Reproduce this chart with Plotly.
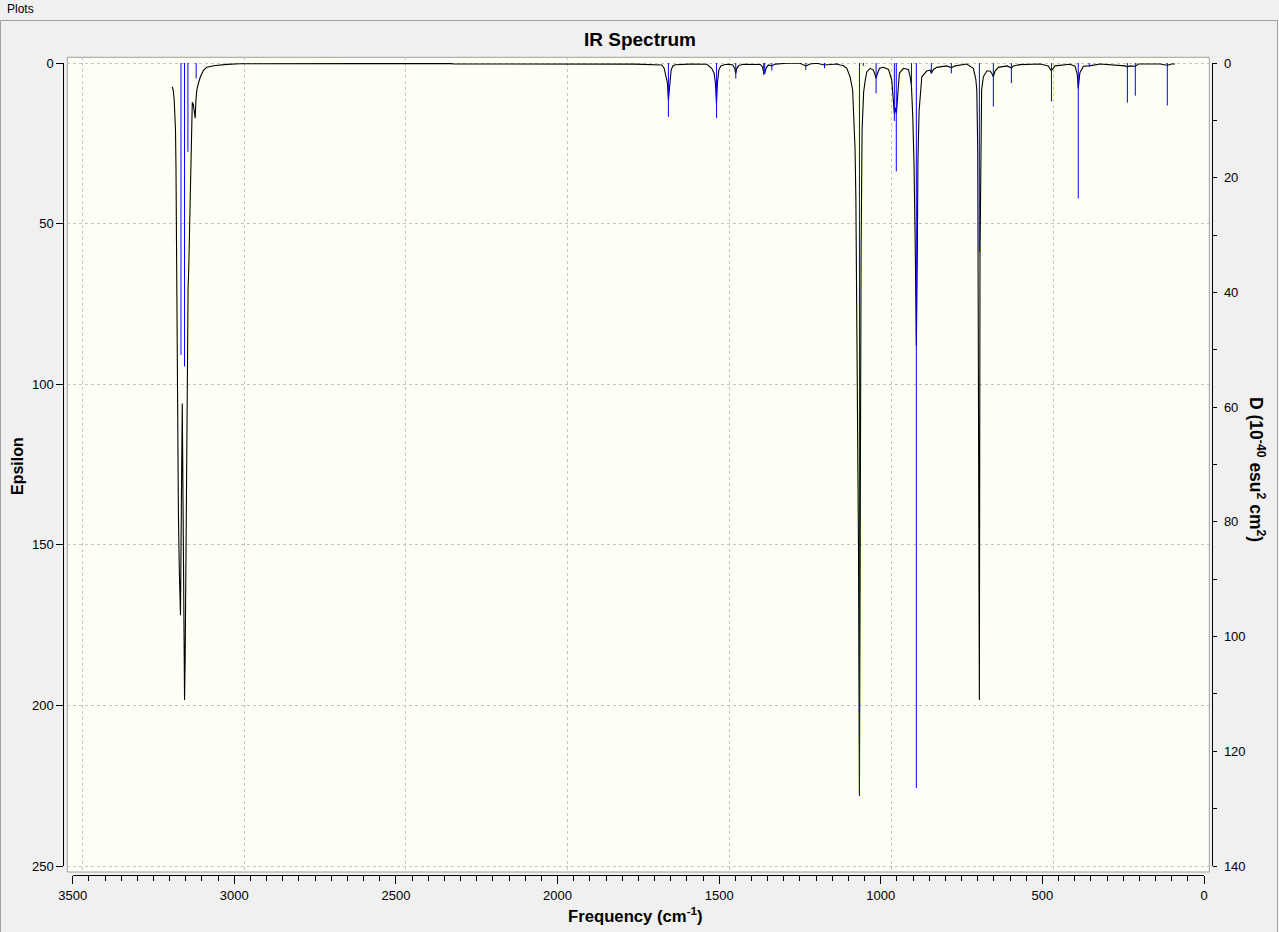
import plotly.graph_objects as go

W, H = 1279, 932

# ---- stick spectrum (blue, right axis: D in 1e-40 esu^2 cm^2) ----
stick_freq = [3165, 3154, 3143.5, 3118, 1657, 1508, 1448.6, 1362, 1359, 1337,
              1232, 1174, 1136, 1066, 1054, 1014.5, 958, 952, 905, 890,
              843.5, 781.6, 695, 651.7, 596, 472, 389, 355, 237, 212.5, 113.5]
stick_D = [50.9, 52.9, 15.5, 2.7, 9.4, 9.6, 2.7, 2.1, 1.5, 1.3,
           1.2, 0.9, 0.35, 127.8, 0.5, 5.3, 10.1, 18.9, 4.1, 126.4,
           1.8, 1.8, 33.0, 7.6, 3.5, 6.7, 23.6, 0.6, 6.9, 5.7, 7.4]

# ---- broadened spectrum (black, left axis: Epsilon) ----
curve_freq = [3192, 3189, 3186, 3184, 3182, 3180.5, 3179.5, 3178.8, 3178, 3176,
              3173, 3170, 3166.5, 3164, 3161, 3158, 3156, 3154, 3152, 3150,
              3148.5, 3147, 3145, 3143, 3141, 3139, 3137, 3135, 3133, 3130,
              3127, 3124, 3121, 3119, 3116, 3111, 3105, 3095, 3085, 3064,
              3023, 2982, 2900, 2600, 2330, 2320, 1760, 1700, 1680, 1677,
              1670, 1664, 1660, 1657, 1654, 1651.7, 1648.6, 1643.4, 1636, 1590,
              1538, 1523, 1515.6, 1511.5, 1508.4, 1505.4, 1501, 1495, 1482, 1468,
              1458, 1452, 1448.6, 1445.4, 1439, 1425, 1394, 1373, 1366, 1362,
              1359, 1355, 1348, 1337, 1327, 1291, 1250, 1232, 1219, 1198,
              1174, 1152, 1136, 1126, 1116, 1105, 1095, 1087, 1083, 1079.5,
              1077, 1073, 1069, 1066, 1064, 1061, 1057.8, 1053, 1048, 1043,
              1033, 1023, 1017.6, 1014.5, 1010, 1004, 992, 976, 966, 961,
              958, 955, 951.7, 948.6, 945, 942.5, 930, 914.6, 909, 905,
              901, 897, 893, 890, 887, 885, 881.5, 877, 873, 858,
              847.5, 843.5, 837, 827, 796, 781.6, 770, 734, 713.6, 706,
              703, 700, 697, 695, 693, 690.7, 688, 682.6, 672, 662,
              656.7, 651.7, 646.5, 636, 610, 600, 596, 590, 569, 507,
              482, 472.4, 461, 415, 399, 392, 389, 384, 373, 355,
              322, 244, 237.3, 229, 218.7, 212.5, 203, 136, 113.5, 100,
              89.7]
curve_eps = [7.4, 8.5, 11.5, 14.5, 20.8, 32, 46, 57, 68, 115,
             140, 158.8, 171.9, 140, 106, 145, 175, 198.3, 185, 160,
             143, 108, 94, 70, 64, 55, 40, 28, 20, 12.2,
             12.8, 15, 17.2, 12, 8.4, 6.3, 4.3, 2.2, 1.35, 0.83,
             0.42, 0.25, 0.2, 0.2, 0.2, 0.3, 0.35, 0.45, 0.6, 0.62,
             1.7, 4.3, 6.3, 11.5, 8.4, 5.3, 2.2, 0.93, 0.52, 0.35,
             0.4, 1.66, 3.2, 6.3, 12.6, 6.3, 2.2, 0.93, 0.45, 0.4,
             0.62, 1.66, 3.2, 1.66, 0.8, 0.4, 0.35, 0.45, 1.2, 3.0,
             3.2, 1.66, 0.6, 0.9, 0.35, 0.1, 0.1, 0.93, 0.3, 0.1,
             0.62, 0.3, 0.3, 0.6, 0.8, 1.66, 4.3, 8.4, 16.7, 27,
             42.6, 90, 150, 228, 116, 60, 20.9, 9, 5.3, 2.7,
             1.66, 2.2, 3.7, 4.8, 3.2, 1.66, 1.35, 2.0, 5.3, 11.5,
             15.7, 14, 15.7, 11.5, 6, 3.2, 1.66, 2.0, 4.3, 7.4,
             16.7, 32, 60, 88, 60, 30, 15, 8, 4.3, 2.5,
             2.2, 3.2, 2.0, 1.35, 0.9, 1.45, 0.9, 0.3, 1.66, 5,
             8.4, 27, 100, 198.3, 60, 16.7, 8.4, 4.3, 2.5, 2.5,
             3.2, 4.3, 2.5, 1.35, 0.9, 1.35, 1.66, 0.9, 0.5, 0.31,
             0.9, 2.4, 0.9, 0.4, 1.0, 3.5, 7.9, 3.0, 1.0, 0.9,
             0.3, 0.9, 1.2, 0.9, 0.9, 1.0, 0.3, 0.3, 0.7, 0.3,
             0.3]

# x-axis tick labels and left / right tick values
x_tickvals = [3500, 3000, 2500, 2000, 1500, 1000, 500, 0]
eps_tickvals = [0, 50, 100, 150, 200, 250]
d_tickvals = [0, 20, 40, 60, 80, 100, 120, 140]


def fx(px):
    return px / W


def fy(py):
    return 1 - py / H


# stick trace built from the stick arrays
sx, sy = [], []
for f, d in zip(stick_freq, stick_D):
    sx += [f, f, None]
    sy += [0, d, None]

fig = go.Figure()
# invisible trace to instantiate the grid subplot
fig.add_trace(go.Scatter(x=[], y=[], xaxis="x", yaxis="y", showlegend=False,
                         hoverinfo="skip"))
fig.add_trace(go.Scatter(x=sx, y=sy, mode="lines", xaxis="x2", yaxis="y3",
                         line=dict(color="#0000ff", width=1), showlegend=False,
                         hoverinfo="skip"))
fig.add_trace(go.Scatter(x=curve_freq, y=curve_eps, mode="lines", xaxis="x2", yaxis="y2",
                         line=dict(color="#000000", width=1.1), showlegend=False))

grid_style = dict(showgrid=True, gridcolor="#c4c4c4", griddash="3px,3px", gridwidth=1,
                  showticklabels=False, ticks="", showline=False, zeroline=False,
                  fixedrange=True, automargin=False)
FONT = "Liberation Sans, Arial, sans-serif"
tickfont = dict(family=FONT, size=13, color="#000000")

px_per_f = (1204 - 72.7) / 3500.0
box_l, box_r, box_t, box_b = 67.3, 1209.3, 57.3, 872.0

fig.update_layout(
    autosize=True,
    margin=dict(l=0, r=0, t=0, b=0, pad=0),
    paper_bgcolor="#f0f0f0",
    plot_bgcolor="rgba(0,0,0,0)",
    showlegend=False,
    xaxis=dict(domain=[fx(box_l), fx(box_r)], anchor="y",
               range=[(1204 - box_l) / px_per_f, (1204 - box_r) / px_per_f],
               tick0=467, dtick=500.5, **grid_style),
    yaxis=dict(domain=[fy(box_b), fy(box_t)], anchor="x",
               range=[(box_b - 63) / 3.212, (box_t - 63) / 3.212],
               tickvals=eps_tickvals, **grid_style),
    xaxis2=dict(domain=[fx(72.7), fx(1204)], anchor="free", position=fy(875),
                range=[3500, 0], showgrid=False, zeroline=False, automargin=False,
                showline=True, linecolor="#000000", linewidth=1,
                ticks="outside", ticklen=8, tickwidth=1, tickcolor="#000000",
                tickvals=x_tickvals, tickfont=tickfont,
                minor=dict(dtick=50, tick0=0, ticks="outside", ticklen=5,
                           tickcolor="#000000", tickwidth=1, showgrid=False),
                fixedrange=True),
    yaxis2=dict(domain=[fy(866), fy(63)], anchor="free", position=fx(63.3),
                range=[250, 0], showgrid=False, zeroline=False, automargin=False,
                showline=True, linecolor="#000000", linewidth=1,
                ticks="outside", ticklen=7, tickwidth=1, tickcolor="#000000",
                tickvals=eps_tickvals, tickfont=tickfont, fixedrange=True),
    yaxis3=dict(overlaying="y2", side="right", anchor="free", position=fx(1212.3),
                range=[140, 0], showgrid=False, zeroline=False, automargin=False,
                showline=True, linecolor="#000000", linewidth=1,
                ticks="outside", ticklen=4, tickwidth=1, tickcolor="#000000",
                tickvals=d_tickvals, tickfont=tickfont, ticklabelstandoff=4,
                minor=dict(dtick=10, tick0=0, ticks="outside", ticklen=4,
                           tickcolor="#000000", tickwidth=1, showgrid=False),
                fixedrange=True),
    shapes=[
        # outer panel border
        dict(type="rect", xref="paper", yref="paper", x0=fx(0.5), x1=fx(1277.5),
             y0=-0.02, y1=fy(20.5), line=dict(color="#a0a0a0", width=1),
             fillcolor="rgba(0,0,0,0)", layer="below"),
        # ivory plot box
        dict(type="rect", xref="paper", yref="paper", x0=fx(box_l), x1=fx(box_r),
             y0=fy(box_b), y1=fy(box_t), line=dict(color="#a0a0a0", width=1),
             fillcolor="#fffff5", layer="below"),
    ],
    annotations=[
        dict(text="Plots", xref="paper", yref="paper", x=fx(5), y=fy(9),
             xanchor="left", yanchor="middle", showarrow=False,
             font=dict(family=FONT, size=12, color="#000000")),
        dict(text="<b>IR Spectrum</b>", xref="paper", yref="paper", x=fx(640), y=fy(40),
             xanchor="center", yanchor="middle", showarrow=False,
             font=dict(family=FONT, size=19, color="#000000")),
        dict(text="<b>Frequency (cm<sup>-1</sup>)</b>", xref="paper", yref="paper",
             x=fx(635), y=fy(915), xanchor="center", yanchor="middle", showarrow=False,
             font=dict(family=FONT, size=16.7, color="#000000")),
        dict(text="<b>Epsilon</b>", xref="paper", yref="paper", x=fx(17), y=fy(466),
             xanchor="center", yanchor="middle", showarrow=False, textangle=-90,
             font=dict(family=FONT, size=16, color="#000000")),
        dict(text="<b>D (10<sup>-40</sup> esu<sup>2</sup> cm<sup>2</sup>)</b>", xref="paper",
             yref="paper", x=fx(1257), y=fy(469), xanchor="center", yanchor="middle",
             showarrow=False, textangle=90,
             font=dict(family=FONT, size=17.5, color="#000000")),
    ],
)

fig.write_html("out.html",
               config={"displayModeBar": False, "responsive": True},
               default_width="%dpx" % W,
               default_height="%dpx; position:fixed; top:0; left:0" % H)
